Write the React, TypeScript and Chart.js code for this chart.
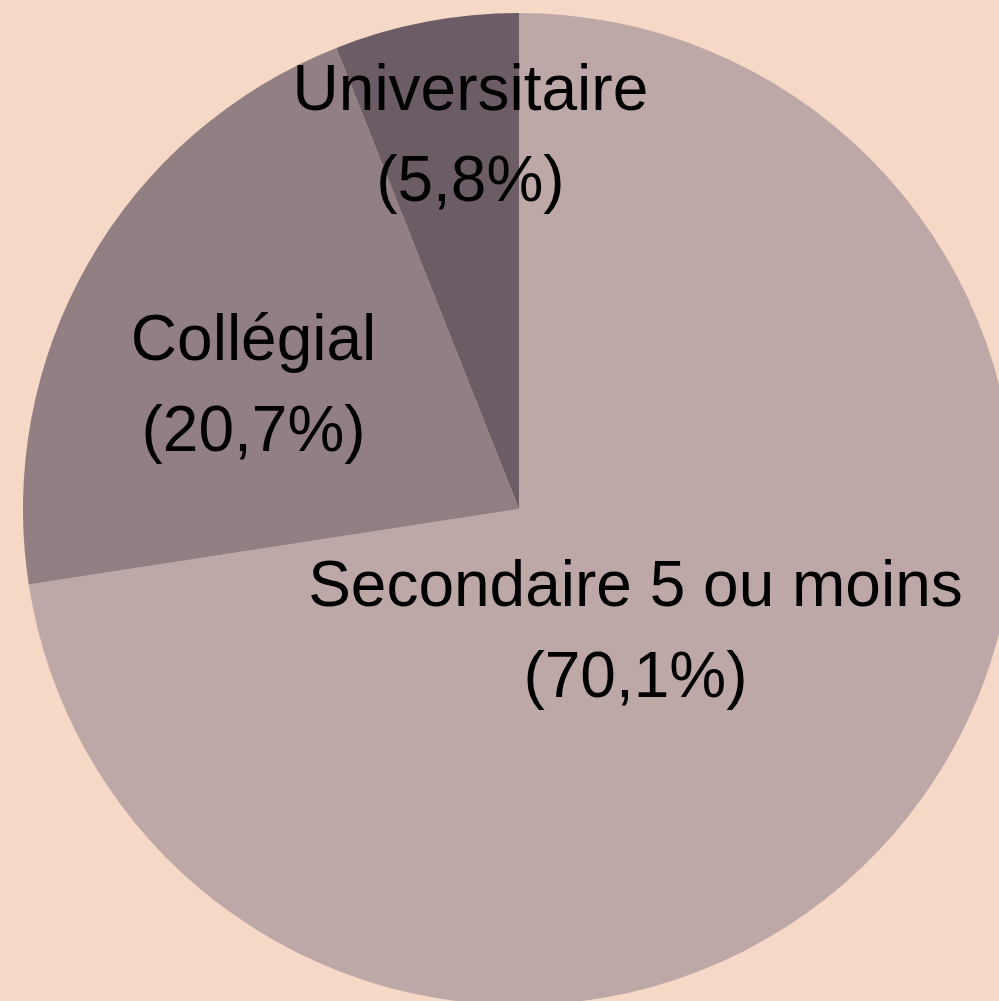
import React, { useEffect, useRef } from "react";
import { Chart, registerables } from "chart.js";

Chart.register(...registerables);

const categories = ["Secondaire 5 ou moins", "Collégial", "Universitaire"];
const values = [70.1, 20.7, 5.8];
const valueLabels = ["(70,1%)", "(20,7%)", "(5,8%)"];
const colors = ["#BDA7A7", "#927F83", "#6B5C66"];
// label placement: fraction of radius, angle shift (deg) from slice middle
const labelRadius = [0.34, 0.59, 0.76];
const labelAngleShift = [5.7, -4.9, 3.4];

const BG = "#F6D8C6";

const labelPlugin = {
  id: "sliceLabels",
  afterDatasetsDraw(chart: any) {
    const ctx = chart.ctx;
    const meta = chart.getDatasetMeta(0);
    ctx.save();
    ctx.fillStyle = "#000000";
    ctx.font = '64px "Liberation Sans", Arial, sans-serif';
    ctx.textAlign = "center";
    ctx.textBaseline = "middle";
    meta.data.forEach((arc: any, i: number) => {
      const p = arc.getProps(["x", "y", "startAngle", "endAngle", "outerRadius"], true);
      const mid = (p.startAngle + p.endAngle) / 2 + (labelAngleShift[i] * Math.PI) / 180;
      const r = p.outerRadius * labelRadius[i];
      const cx = p.x + Math.cos(mid) * r;
      const cy = p.y + Math.sin(mid) * r;
      ctx.fillText(categories[i], cx, cy - 43);
      ctx.fillText(valueLabels[i], cx, cy + 48);
    });
    ctx.restore();
  },
};

export default function App() {
  const ref = useRef<HTMLCanvasElement>(null);
  useEffect(() => {
    if (!ref.current) return;
    const chart = new Chart(ref.current, {
      type: "pie",
      data: {
        labels: categories,
        datasets: [
          {
            data: values,
            backgroundColor: colors,
            borderWidth: 0,
          },
        ],
      },
      options: {
        responsive: false,
        animation: false,
        layout: { padding: 0 },
        plugins: {
          legend: { display: false },
          tooltip: { enabled: false },
        },
      },
      plugins: [labelPlugin],
    });
    return () => chart.destroy();
  }, []);
  return (
    <div
      style={{
        position: "fixed",
        left: 0,
        top: 0,
        width: 999,
        height: 1001,
        overflow: "hidden",
        background: BG,
      }}
    >
      <canvas
        ref={ref}
        width={992}
        height={992}
        style={{ position: "absolute", left: 23, top: 13, width: 992, height: 992 }}
      />
    </div>
  );
}
